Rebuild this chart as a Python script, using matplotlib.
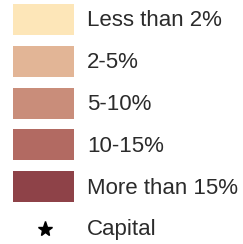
import matplotlib
matplotlib.use("Agg")
import matplotlib.pyplot as plt
from matplotlib.patches import Rectangle

# legend classes
labels = ["Less than 2%", "2-5%", "5-10%", "10-15%", "More than 15%"]
colors = ["#FDE6B8", "#E2B596", "#C98D7A", "#B26A62", "#8E4248"]
capital_label = "Capital"

W, H = 243, 244
fig = plt.figure(figsize=(W / 100, H / 100), dpi=100)
ax = fig.add_axes([0, 0, 1, 1])
ax.set_xlim(0, W)
ax.set_ylim(H, 0)
ax.axis("off")

# layout in pixels
x0, bw, bh = 13, 61, 31
top0, step = 4, 41.8
tx = 87
font = dict(family=["Liberation Sans", "DejaVu Sans"], size=16, color="#2b2b2b")

for i, (lab, c) in enumerate(zip(labels, colors)):
    top = top0 + step * i
    ax.add_patch(Rectangle((x0, top), bw, bh, facecolor=c, edgecolor="none"))
    ax.text(tx, top + bh / 2 + 1.5, lab, va="center", ha="left", **font)

cy = top0 + step * len(labels) + bh / 2
ax.plot([45], [cy], marker="*", color="black", markersize=11, linestyle="none")
ax.text(tx, cy + 1, capital_label, va="center", ha="left", **font)

fig.savefig("out.png", dpi=100)
